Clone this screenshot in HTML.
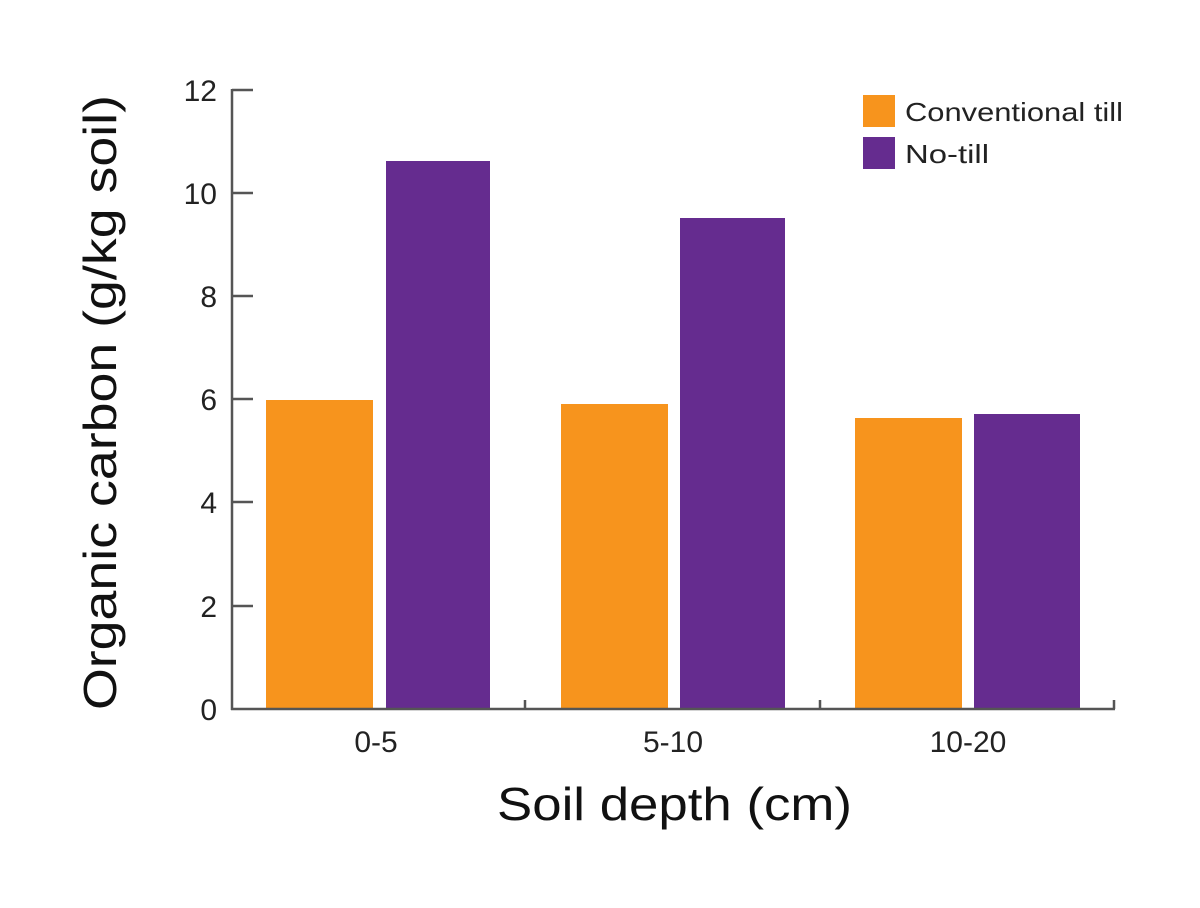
<!DOCTYPE html>
<html><head><meta charset="utf-8"><style>html,body{margin:0;padding:0;background:#fff}</style></head>
<body>
<svg width="1200" height="903" xmlns="http://www.w3.org/2000/svg" font-family="Liberation Sans, DejaVu Sans, sans-serif">
<rect width="1200" height="903" fill="#fff"/>
<g fill="#f7941d">
<rect x="266" y="400" width="107" height="309"/>
<rect x="561" y="404" width="107" height="305"/>
<rect x="855" y="418" width="107" height="291"/>
</g>
<g fill="#652c8f">
<rect x="386" y="161" width="104" height="548"/>
<rect x="680" y="218" width="105" height="491"/>
<rect x="974" y="414" width="106" height="295"/>
</g>
<g stroke="#555" stroke-width="2.5" fill="none">
<line x1="232" y1="89" x2="232" y2="710"/>
<line x1="231" y1="709" x2="1115" y2="709"/>
<line x1="232" y1="90" x2="253" y2="90"/>
<line x1="232" y1="193" x2="253" y2="193"/>
<line x1="232" y1="296" x2="253" y2="296"/>
<line x1="232" y1="399" x2="253" y2="399"/>
<line x1="232" y1="502" x2="253" y2="502"/>
<line x1="232" y1="606" x2="253" y2="606"/>
<line x1="525" y1="700" x2="525" y2="709"/>
<line x1="820" y1="700" x2="820" y2="709"/>
<line x1="1114" y1="700" x2="1114" y2="709"/>
</g>
<g font-size="30" fill="#222" text-anchor="end">
<text x="217" y="101">12</text>
<text x="217" y="204">10</text>
<text x="217" y="307">8</text>
<text x="217" y="410">6</text>
<text x="217" y="513">4</text>
<text x="217" y="617">2</text>
<text x="217" y="720">0</text>
</g>
<g font-size="30" fill="#222" text-anchor="middle">
<text x="376" y="752">0-5</text>
<text x="673" y="752">5-10</text>
<text x="968" y="752">10-20</text>
</g>
<text x="497" y="820" font-size="46" fill="#111" textLength="355" lengthAdjust="spacingAndGlyphs">Soil depth (cm)</text>
<text transform="translate(116,710) rotate(-90)" font-size="46" fill="#111" textLength="615" lengthAdjust="spacingAndGlyphs">Organic carbon (g/kg soil)</text>
<rect x="863" y="95" width="32" height="32" fill="#f7941d"/>
<rect x="863" y="137" width="32" height="32" fill="#652c8f"/>
<g font-size="26" fill="#222">
<text x="905" y="121" textLength="218" lengthAdjust="spacingAndGlyphs">Conventional till</text>
<text x="905" y="163" textLength="84" lengthAdjust="spacingAndGlyphs">No-till</text>
</g>
</svg>
</body></html>
